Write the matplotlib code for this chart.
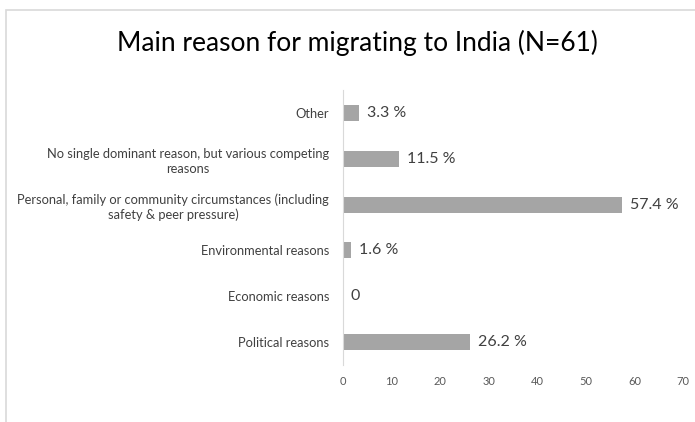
import matplotlib.pyplot as plt
from matplotlib.patches import Rectangle

# data
categories = ['Political reasons',
              'Economic reasons',
              'Environmental reasons',
              'Personal, family or community circumstances (including\nsafety & peer pressure)',
              'No single dominant reason, but various competing\nreasons',
              'Other']
values = [26.2, 0, 1.6, 57.4, 11.5, 3.3]
value_labels = ['26.2 %', '0', '1.6 %', '57.4 %', '11.5 %', '3.3 %']
xticks = [0, 10, 20, 30, 40, 50, 60, 70]

plt.rcParams['font.family'] = ['Lato', 'DejaVu Sans']

fig = plt.figure(figsize=(6.95, 4.22), dpi=100)
ax = fig.add_axes([0.4935, 0.135, 0.4892, 0.652])

ypos = range(len(categories))
ax.barh(ypos, values, height=0.35, color='#a5a5a5')

for y, v, lab in zip(ypos, values, value_labels):
    ax.text(v + 1.6, y, lab, va='center', ha='left', fontsize=11.5, color='#404040')

ax.set_xlim(0, 70)
ax.set_ylim(-0.5, 5.5)
ax.set_xticks(xticks)
ax.set_yticks(list(ypos))
ax.set_yticklabels(categories, fontsize=9.3, color='#404040')
for t in ax.get_yticklabels():
    t.set_multialignment('center')
    t.set_linespacing(1.3)
ax.tick_params(axis='x', labelsize=8, colors='#595959', length=0, pad=8)
ax.tick_params(axis='y', length=0, pad=10)

for s in ['top', 'right', 'bottom']:
    ax.spines[s].set_visible(False)
ax.spines['left'].set_color('#d9d9d9')

fig.suptitle('Main reason for migrating to India (N=61)', x=0.514, y=0.93,
             fontsize=19, color='#000000')

# chart frame (partially visible)
fig.patches.append(Rectangle((6 / 695, -0.1), 1.2, 1.1 - 10 / 422,
                             transform=fig.transFigure, fill=False,
                             edgecolor='#d9d9d9', linewidth=1.2))

fig.savefig('out.png', dpi=100)
